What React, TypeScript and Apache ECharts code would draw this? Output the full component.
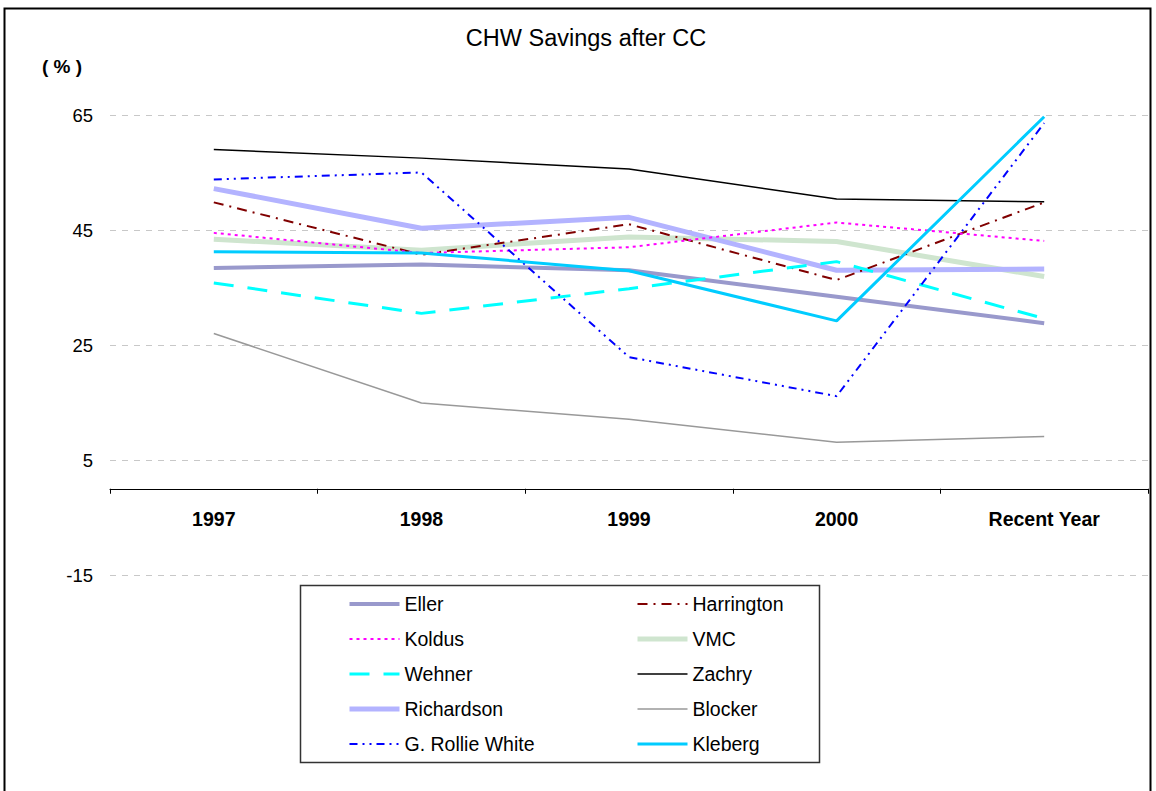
import React, { useEffect, useRef } from "react";
import * as echarts from "echarts";

const categories = ["1997", "1998", "1999", "2000", "Recent Year"];
const yTicks = [-15, 5, 25, 45, 65];

const eller = [38.4, 39.0, 38.0, 33.4, 28.8];
const harrington = [49.8, 40.7, 46.0, 36.3, 49.8];
const koldus = [44.5, 41.0, 42.0, 46.3, 43.1];
const vmc = [43.4, 41.5, 43.8, 43.0, 36.9];
const wehner = [35.8, 30.5, 34.8, 39.5, 29.6];
const zachry = [59.0, 57.5, 55.6, 50.4, 49.9];
const richardson = [52.2, 45.3, 47.2, 38.0, 38.2];
const blocker = [27.0, 14.9, 12.1, 8.1, 9.1];
const rollieWhite = [53.8, 55.0, 22.9, 16.1, 63.6];
const kleberg = [41.2, 41.0, 37.9, 29.2, 64.7];

const leftLegend = ["Eller", "Koldus", "Wehner", "Richardson", "G. Rollie White"];
const rightLegend = ["Harrington", "VMC", "Zachry", "Blocker", "Kleberg"];

const styles: Record<string, { color: string; width: number; type: any; z: number }> = {
  Eller: { color: "#9999cc", width: 4, type: "solid", z: 3 },
  Harrington: { color: "#800000", width: 2, type: [10, 6, 2, 6], z: 4 },
  Koldus: { color: "#ff00ff", width: 2, type: [3, 4], z: 4 },
  VMC: { color: "#cfe5cf", width: 5, type: "solid", z: 2 },
  Wehner: { color: "#00ffff", width: 3, type: [20, 14], z: 4 },
  Zachry: { color: "#000000", width: 1.5, type: "solid", z: 4 },
  Richardson: { color: "#b3b3ff", width: 5, type: "solid", z: 2 },
  Blocker: { color: "#999999", width: 1.5, type: "solid", z: 4 },
  "G. Rollie White": { color: "#0000ff", width: 2, type: [8, 5, 2, 5, 2, 5], z: 5 },
  Kleberg: { color: "#00ccff", width: 3, type: "solid", z: 5 },
};

const seriesData: Record<string, number[]> = {
  Eller: eller,
  Harrington: harrington,
  Koldus: koldus,
  VMC: vmc,
  Wehner: wehner,
  Zachry: zachry,
  Richardson: richardson,
  Blocker: blocker,
  "G. Rollie White": rollieWhite,
  Kleberg: kleberg,
};

const FONT = "'Liberation Sans', Arial, sans-serif";

function legendItems(names: string[]) {
  return names.map((n) => ({
    name: n,
    lineStyle: { width: styles[n].width, color: styles[n].color, type: styles[n].type },
    itemStyle: { opacity: 0 },
  }));
}

export default function App() {
  const ref = useRef<HTMLDivElement>(null);
  useEffect(() => {
    document.body.style.margin = "0";
    const chart = echarts.init(ref.current!, undefined, { renderer: "svg" });
    const legendCommon = {
      orient: "vertical",
      itemWidth: 50,
      itemHeight: 14,
      itemGap: 15,
      itemStyle: { opacity: 0 },
      textStyle: { fontFamily: FONT, fontSize: 19.5, lineHeight: 20, color: "#000" },
      selectedMode: false,
    };
    const names = Object.keys(styles);
    chart.setOption({
      animation: false,
      title: {
        text: "CHW Savings after CC",
        left: 581,
        textAlign: "center",
        top: 21,
        textStyle: { fontFamily: FONT, fontSize: 23.5, fontWeight: "normal", color: "#000" },
      },
      legend: [
        { ...legendCommon, data: legendItems(leftLegend), left: 342, top: 589 },
        { ...legendCommon, data: legendItems(rightLegend), left: 630, top: 589 },
      ],
      grid: { left: 110, right: 8, top: 115, bottom: 216, containLabel: false },
      xAxis: {
        type: "category",
        data: categories,
        boundaryGap: true,
        axisLine: { onZero: true, lineStyle: { color: "#000", width: 1 } },
        axisTick: { show: true, length: 5, lineStyle: { color: "#000" } },
        axisLabel: {
          margin: -66,
          fontFamily: FONT,
          fontSize: 19.5,
          fontWeight: "bold",
          color: "#000",
        },
      },
      yAxis: {
        type: "value",
        min: yTicks[0],
        max: yTicks[yTicks.length - 1],
        interval: 20,
        axisLine: { show: false },
        axisTick: { show: false },
        splitLine: { lineStyle: { color: "#c8c8c8", type: [6, 6], width: 1 } },
        axisLabel: {
          margin: 17,
          fontFamily: FONT,
          fontSize: 18.5,
          color: "#000",
        },
      },
      graphic: [
        {
          type: "rect",
          shape: { x: 4.5, y: 8.5, width: 1146, height: 790 },
          style: { fill: "none", stroke: "#000", lineWidth: 2 },
          silent: true,
        },
        {
          type: "rect",
          shape: { x: 300.5, y: 585.5, width: 519, height: 177 },
          style: { fill: "none", stroke: "#333", lineWidth: 1.5 },
          silent: true,
          z: -1,
        },
        {
          type: "text",
          x: 42,
          y: 66,
          style: {
            text: "( % )",
            font: `bold 19px ${FONT}`,
            fill: "#000",
            verticalAlign: "middle",
          },
          silent: true,
        },
      ],
      series: names.map((n) => ({
        name: n,
        type: "line",
        data: seriesData[n],
        symbol: "none",
        z: styles[n].z,
        lineStyle: { color: styles[n].color, width: styles[n].width, type: styles[n].type },
        itemStyle: { color: styles[n].color },
      })),
    });
    return () => chart.dispose();
  }, []);
  return <div ref={ref} style={{ width: 1156, height: 791 }} />;
}
